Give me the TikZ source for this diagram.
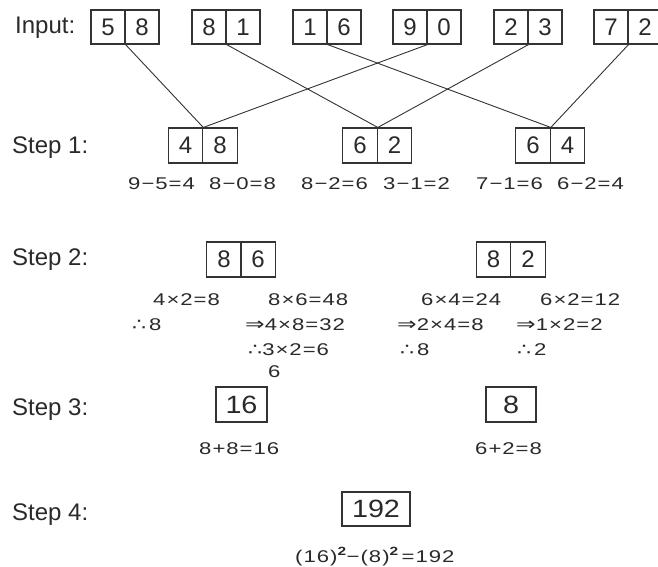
\documentclass[tikz,border=0pt]{standalone}
\usepackage{fontspec}
\setmainfont{Liberation Sans}
\newfontfamily\eqfam{Liberation Sans}[FakeStretch=1.3,LetterSpace=6]
\newfontfamily\boxfam{Liberation Sans}[FakeStretch=1.15]
\newfontfamily\symfam{DejaVu Sans}[FakeStretch=1.3]
\definecolor{txt}{HTML}{2A2A2A}
\definecolor{boxc}{HTML}{333333}
\newcommand{\lblf}{\fontsize{24}{28}\selectfont}
\newcommand{\digf}{\fontsize{24}{28}\selectfont}
\newcommand{\bigdigf}{\boxfam\fontsize{25}{30}\selectfont}
\newcommand{\eqfs}{\eqfam\fontsize{17}{20}\selectfont}
\newcommand{\Tsym}{{\symfam\fontsize{17}{17}\selectfont ∴}}
\newcommand{\Isym}{{\symfam\fontsize{18}{18}\selectfont ⇒}}
\begin{document}
\begin{tikzpicture}[x=1pt,y=-1pt,
  cell/.style={draw=boxc, line width=1.1pt, inner sep=0pt, minimum width=34pt, minimum height=34pt, font=\digf, text=txt},
  wcell/.style={cell, minimum width=34.5pt, minimum height=35pt},
  bigbox/.style={draw=boxc, line width=1.1pt, inner sep=0pt, minimum height=35pt, font=\bigdigf, text=txt},
  lbl/.style={anchor=base west, inner sep=0pt, font=\lblf, text=txt},
  eq/.style={anchor=base west, inner sep=0pt, font=\eqfs, text=txt},
  conn/.style={draw=boxc, line width=0.9pt}]
\useasboundingbox[fill=white] (0,0) rectangle (658,567);

% labels
\node[lbl] (linput) at (15,34) {Input:};
\node[lbl] (lstep1) at (12,153) {Step 1:};
\node[lbl] (lstep2) at (12,265) {Step 2:};
\node[lbl] (lstep3) at (12,415) {Step 3:};
\node[lbl] (lstep4) at (12,520) {Step 4:};

% input cells
\node[cell] (i1a) at (108,27) {5};
\node[cell] (i1b) at (142,27) {8};
\node[cell] (i2a) at (209,27) {8};
\node[cell] (i2b) at (243,27) {1};
\node[cell] (i3a) at (310,27) {1};
\node[cell] (i3b) at (344,27) {6};
\node[cell] (i4a) at (410,27) {9};
\node[cell] (i4b) at (444,27) {0};
\node[cell] (i5a) at (511,27) {2};
\node[cell] (i5b) at (545,27) {3};
\node[cell] (i6a) at (611,27) {7};
\node[cell] (i6b) at (645,27) {2};

% step 1 cells
\node[wcell] (sAa) at (185.5,145.5) {4};
\node[wcell] (sAb) at (220,145.5) {8};
\node[wcell] (sBa) at (360,145.5) {6};
\node[wcell] (sBb) at (394.5,145.5) {2};
\node[wcell] (sCa) at (533,145.5) {6};
\node[wcell] (sCb) at (567.5,145.5) {4};

% connectors
\draw[conn] (i1a.south east) -- (sAa.north east);
\draw[conn] (i4a.south east) -- (sAa.north east);
\draw[conn] (i2a.south east) -- (sBa.north east);
\draw[conn] (i5a.south east) -- (sBa.north east);
\draw[conn] (i3a.south east) -- (sCa.north east);
\draw[conn] (i6a.south east) -- (sCa.north east);

% step 1 equations
\node[eq] (e11) at (128,189) {9−5=4};
\node[eq] (e12) at (209,189) {8−0=8};
\node[eq] (e13) at (301,189) {8−2=6};
\node[eq] (e14) at (383,189) {3−1=2};
\node[eq] (e15) at (476,189) {7−1=6};
\node[eq] (e16) at (557,189) {6−2=4};

% step 2 cells
\node[wcell] (sDa) at (224,259.5) {8};
\node[wcell] (sDb) at (258,259.5) {6};
\node[wcell] (sEa) at (493.5,259.5) {8};
\node[wcell] (sEb) at (528,259.5) {2};

% step 2 equations
\node[eq] (e21) at (153,305) {4×2=8};
\node[eq] (e22) at (268,305) {8×6=48};
\node[eq] (e23) at (421,305) {6×4=24};
\node[eq] (e24) at (540,305) {6×2=12};
\node[eq] (e25) at (132,330) {\Tsym\,8};
\node[eq] (e26) at (245,330) {\Isym4×8=32};
\node[eq] (e27) at (397,330) {\Isym2×4=8};
\node[eq] (e28) at (516,330) {\Isym1×2=2};
\node[eq] (e29) at (248,355) {\Tsym3×2=6};
\node[eq] (e30) at (400,355) {\Tsym\,8};
\node[eq] (e31) at (517,355) {\Tsym\,2};
\node[eq] (e32) at (268,377) {6};

% step 3
\node[bigbox, minimum width=51pt] (s3a) at (241.5,404.5) {16};
\node[bigbox, minimum width=50pt] (s3b) at (511,404.5) {8};
\node[eq] (e41) at (199,454) {8+8=16};
\node[eq] (e42) at (475,454) {6+2=8};

% step 4
\node[bigbox, minimum width=68pt, minimum height=34pt] (s4) at (376,509) {192};
\node[eq] (e51) at (295,562) {(16)\textsuperscript{\bfseries 2}−(8)\textsuperscript{\bfseries 2}\,=192};
\end{tikzpicture}
\end{document}
